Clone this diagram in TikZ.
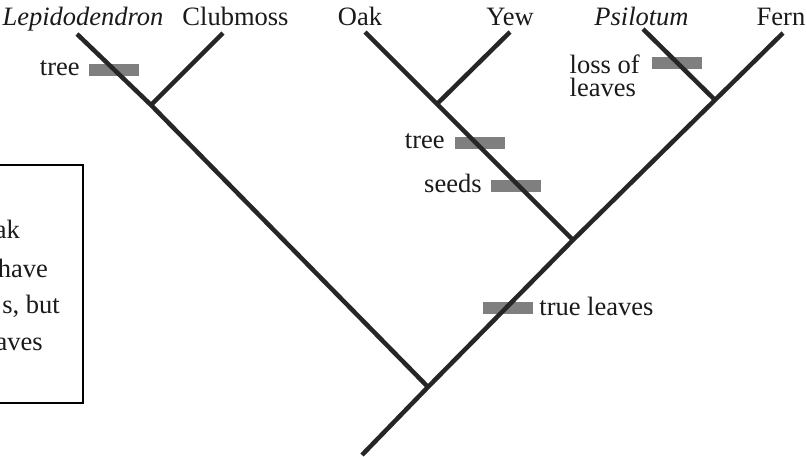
\documentclass[tikz,border=0pt]{standalone}
\usepackage{fontspec}
\setmainfont{Liberation Serif}
\usetikzlibrary{positioning}
\definecolor{branchcol}{HTML}{262626}
\definecolor{barcol}{HTML}{7F7F7F}
\definecolor{textcol}{HTML}{1A1A1A}
\begin{document}
\begin{tikzpicture}[x=1pt,y=-1pt,
		branch/.style={draw=branchcol, line width=4.5pt},
		trait/.style={fill=barcol, minimum width=50pt, minimum height=12pt, inner sep=0pt},
		lbl/.style={inner sep=0pt, text=textcol, font=\fontsize{26.5}{30}\selectfont}]
		\useasboundingbox (0,0) rectangle (807,456);
		\fill [white] (0,0) rectangle (807,456);
		\coordinate (root) at (362,455);
		\coordinate (n1) at (428,387);
		\coordinate (n2) at (573,240);
		\coordinate (n3) at (715,100);
		\coordinate (c1) at (151,105);
		\coordinate (y1) at (437,104);
		\coordinate (lepi) at (77,34);
		\coordinate (club) at (223,33);
		\coordinate (oak) at (365,32);
		\coordinate (yew) at (510,32);
		\coordinate (psil) at (643,29);
		\coordinate (fern) at (783,33);
		\node [lbl, anchor=base] (lepiname) at (83,25) {\itshape Lepidodendron};
		\node [lbl, anchor=base] (clubname) at (235.5,25) {Clubmoss};
		\node [lbl, anchor=base] (oakname) at (360,25) {Oak};
		\node [lbl, anchor=base] (yewname) at (510,25) {Yew};
		\node [lbl, anchor=base] (psilname) at (641.5,25) {\itshape Psilotum};
		\node [lbl, anchor=base] (fernname) at (781,25) {Fern};
		\node [trait] (barA) at (114,70) {};
		\node [trait] (barB) at (480,142.5) {};
		\node [trait] (barC) at (516,185.5) {};
		\node [trait] (barD) at (677,62.5) {};
		\node [trait] (barE) at (508,308) {};
		\node [lbl, anchor=base east] (treeA) at ([shift={(-9,5)}]barA.west) {tree};
		\node [lbl, anchor=base east] (treeB) at ([shift={(-10,5.5)}]barB.west) {tree};
		\node [lbl, anchor=base east] (seedsC) at ([shift={(-9,7)}]barC.west) {seeds};
		\node [lbl, anchor=north east, align=left, font=\fontsize{26.5}{23}\selectfont] (lossD) at ([shift={(-12,-7.5)}]barD.west) {loss of\\leaves};
		\node [lbl, anchor=base west] (leavesE) at ([shift={(6,7)}]barE.east) {true leaves};
		\draw [branch] (root) -- (n1) -- (n2) -- (n3) -- (fern);
		\draw [branch] (n1) -- (c1) -- (lepi);
		\draw [branch] (c1) -- (club);
		\draw [branch] (n2) -- (y1) -- (oak);
		\draw [branch] (y1) -- (yew);
		\draw [branch] (n3) -- (psil);
		\begin{scope}
			\clip (0,0) rectangle (807,456);
			\node [draw=black, line width=2pt, minimum width=140pt, minimum height=238pt, inner sep=0pt, anchor=north east] (note) at (84,164) {};
			\node [lbl, anchor=base east] (noteA) at (20,238) {ak};
			\node [lbl, anchor=base east] (noteB) at (48,277) {have};
			\node [lbl, anchor=base east] (noteC) at (60,313) {s, but};
			\node [lbl, anchor=base east] (noteD) at (43,350) {aves};
		\end{scope}
	\end{tikzpicture}
\end{document}
